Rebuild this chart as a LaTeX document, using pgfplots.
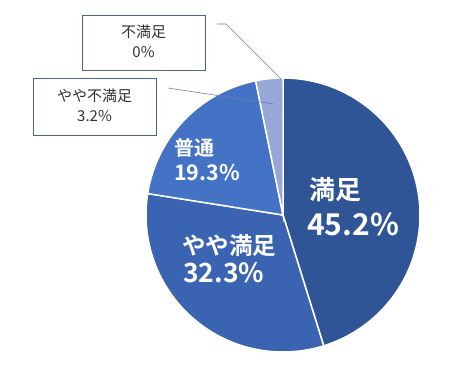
\documentclass[border=0pt]{standalone}
\usepackage{pgfplots}
\usepackage{pgfplotstable}
\pgfplotsset{compat=1.18}
\usepackage{fontspec}
\setmainfont{Noto Sans CJK JP}[BoldFont={Noto Sans CJK JP Bold}]
\definecolor{cA}{RGB}{47,85,151}
\definecolor{cB}{RGB}{58,100,177}
\definecolor{cC}{RGB}{68,114,196}
\definecolor{cD}{RGB}{150,167,216}
\definecolor{boxc}{RGB}{80,96,140}
\definecolor{leadc}{RGB}{110,128,175}
\definecolor{txt}{RGB}{50,50,50}
\pgfplotstableread{
value
45.2
32.3
19.3
3.2
0
}\piedata
\pgfplotstablegetelem{0}{value}\of\piedata\let\vA\pgfplotsretval
\pgfplotstablegetelem{1}{value}\of\piedata\let\vB\pgfplotsretval
\pgfplotstablegetelem{2}{value}\of\piedata\let\vC\pgfplotsretval
\pgfplotstablegetelem{3}{value}\of\piedata\let\vD\pgfplotsretval
\pgfmathsetmacro{\aA}{90}
\pgfmathsetmacro{\aB}{\aA-3.6*\vA}
\pgfmathsetmacro{\aC}{\aB-3.6*\vB}
\pgfmathsetmacro{\aD}{\aC-3.6*\vC}
\pgfmathsetmacro{\aE}{\aD-3.6*\vD}
\begin{document}
\begin{tikzpicture}
\begin{axis}[
  width=454pt, height=364pt, scale only axis,
  xmin=0, xmax=454, ymin=0, ymax=364,
  hide axis, clip=false,
]
\path (axis cs:0,0) (axis cs:454,364);
\def\cx{283}\def\cy{149}\def\r{137}
\addplot[fill=cA, draw=white, line width=1.5pt, domain=\aB:\aA, samples=80, variable=\t]
  ({\cx+\r*cos(t)},{\cy+\r*sin(t)}) -- (axis cs:\cx,\cy) -- cycle;
\addplot[fill=cB, draw=white, line width=1.5pt, domain=\aC:\aB, samples=80, variable=\t]
  ({\cx+\r*cos(t)},{\cy+\r*sin(t)}) -- (axis cs:\cx,\cy) -- cycle;
\addplot[fill=cC, draw=white, line width=1.5pt, domain=\aD:\aC, samples=60, variable=\t]
  ({\cx+\r*cos(t)},{\cy+\r*sin(t)}) -- (axis cs:\cx,\cy) -- cycle;
\addplot[fill=cD, draw=white, line width=1.5pt, domain=\aE:\aD, samples=20, variable=\t]
  ({\cx+\r*cos(t)},{\cy+\r*sin(t)}) -- (axis cs:\cx,\cy) -- cycle;
% leader lines
\addplot[leadc, line width=0.6pt] coordinates {(217,340) (226,340) (281,285)};
\addplot[leadc, line width=0.6pt] coordinates {(168,276) (274,260)};
% boxes
\draw[boxc, line width=0.7pt, fill=white] (axis cs:82,294) rectangle (axis cs:205,349);
\draw[boxc, line width=0.7pt, fill=white] (axis cs:33,229) rectangle (axis cs:156,286);
\node[txt, font=\fontsize{15}{17}\selectfont] at (axis cs:143.5,332) {不満足};
\node[txt, font=\fontsize{15}{17}\selectfont] at (axis cs:143.5,312) {0\%};
\node[txt, font=\fontsize{15}{17}\selectfont] at (axis cs:94.5,268) {やや不満足};
\node[txt, font=\fontsize{15}{17}\selectfont] at (axis cs:94.5,248) {3.2\%};
% in-pie labels
\node[white, anchor=west, inner sep=0pt, font=\bfseries\fontsize{26}{28}\selectfont] at (axis cs:309,174) {満足};
\node[white, anchor=west, inner sep=0pt, font=\bfseries\fontsize{30}{32}\selectfont] at (axis cs:307,140) {45.2\%};
\node[white, anchor=west, inner sep=0pt, font=\bfseries\fontsize{23.5}{26}\selectfont] at (axis cs:182,118) {やや満足};
\node[white, anchor=west, inner sep=0pt, font=\bfseries\fontsize{26.5}{28}\selectfont] at (axis cs:183,91) {32.3\%};
\node[white, anchor=west, inner sep=0pt, font=\bfseries\fontsize{20}{22}\selectfont] at (axis cs:174,216) {普通};
\node[white, anchor=west, inner sep=0pt, font=\bfseries\fontsize{21.5}{24}\selectfont] at (axis cs:174,191) {19.3\%};
\end{axis}
\end{tikzpicture}
\end{document}
